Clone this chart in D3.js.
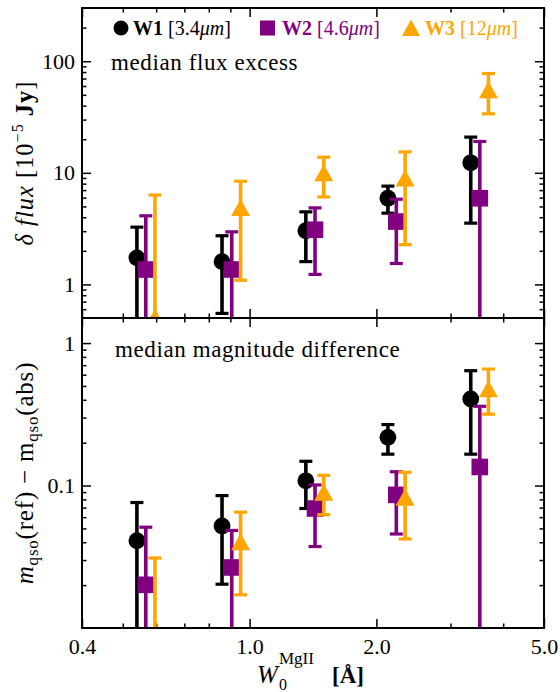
<!DOCTYPE html>
<html>
<head>
<meta charset="utf-8">
<script src="https://cdn.jsdelivr.net/npm/d3@7/dist/d3.min.js"></script>
<style>
  body { margin: 0; background: #fff; }
</style>
</head>
<body>
<svg id="chart" width="560" height="692"></svg>
<script>
// --- data ---
// W0 (rest equivalent width, Angstrom) for each band, slightly offset per band
const w1X = [0.54, 0.86, 1.36, 2.13, 3.35];
const w2X = [0.567, 0.907, 1.43, 2.23, 3.52];
const w3X = [0.596, 0.952, 1.50, 2.34, 3.69];

// top panel: median flux excess [1e-5 Jy]
const w1Flux = [1.73, 1.60, 3.03, 5.92, 12.3];
const w1FluxLo = [0.1, 0.55, 1.6, 4.35, 3.54];
const w1FluxHi = [3.26, 2.73, 4.47, 7.6, 20.9];
const w2Flux = [1.36, 1.36, 3.09, 3.66, 5.92];
const w2FluxLo = [0.1, 0.1, 1.23, 1.54, 0.1];
const w2FluxHi = [4.12, 2.96, 4.85, 5.8, 19.1];
const w3Flux = [0.5, 4.85, 9.9, 8.9, 55];
const w3FluxLo = [0.1, 1.09, 6.08, 2.27, 33.8];
const w3FluxHi = [6.33, 8.4, 13.8, 15.4, 77.6];

// bottom panel: median magnitude difference
const w1Mag = [0.041, 0.052, 0.108, 0.218, 0.405];
const w1MagLo = [0.001, 0.0203, 0.069, 0.166, 0.166];
const w1MagHi = [0.076, 0.085, 0.148, 0.268, 0.64];
const w2Mag = [0.0201, 0.0266, 0.069, 0.086, 0.135];
const w2MagLo = [0.001, 0.001, 0.0373, 0.0457, 0.001];
const w2MagHi = [0.051, 0.0484, 0.101, 0.125, 0.36];
const w3Mag = [0.005, 0.040, 0.089, 0.082, 0.475];
const w3MagLo = [0.001, 0.0171, 0.0624, 0.0422, 0.317];
const w3MagHi = [0.031, 0.065, 0.118, 0.124, 0.657];

const xTicks = [0.4, 1, 2, 5];
const xTickLabels = ['0.4', '1.0', '2.0', '5.0'];
const xMinor = [0.5, 0.6, 0.7, 0.8, 0.9, 3, 4];
const topTicks = [1, 10, 100];
const topTickLabels = ['1', '10', '100'];
const topMinor = [0.6, 0.7, 0.8, 0.9, 2, 3, 4, 5, 6, 7, 8, 9, 20, 30, 40, 50, 60, 70, 80, 90, 200];
const botTicks = [0.1, 1];
const botTickLabels = ['0.1', '1'];
const botMinor = [0.02, 0.03, 0.04, 0.05, 0.06, 0.07, 0.08, 0.09, 0.2, 0.3, 0.4, 0.5, 0.6, 0.7, 0.8, 0.9];

const colors = { w1: 'black', w2: 'purple', w3: 'orange' };
const serif = '"Liberation Serif", "Times New Roman", "DejaVu Serif", serif';

// --- layout ---
const pLeft = 82, pRight = 544, pTop = 8, pMid = 318, pBottom = 628;
const svg = d3.select('#chart').attr('font-family', serif);
svg.append('rect').attr('width', 560).attr('height', 692).attr('fill', '#fff');

const x = d3.scaleLog().domain([0.4, 5]).range([pLeft, pRight]);
const yTop = d3.scaleLog().domain([0.5, 300]).range([pMid, pTop]);
const yBot = d3.scaleLog().domain([0.01, 1.5]).range([pBottom, pMid]);

const defs = svg.append('defs');
defs.append('clipPath').attr('id', 'clipTop').append('rect')
  .attr('x', pLeft).attr('y', pTop).attr('width', pRight - pLeft).attr('height', pMid - pTop);
defs.append('clipPath').attr('id', 'clipBot').append('rect')
  .attr('x', pLeft).attr('y', pMid).attr('width', pRight - pLeft).attr('height', pBottom - pMid);

// ticks (inward, on all four sides)
function ticks(axis, tr, values, size, labels) {
  const g = svg.append('g').attr('transform', tr)
    .call(axis.tickValues(values).tickSize(-size).tickPadding(7)
      .tickFormat((d, i) => labels ? labels[i] : ''));
  g.attr('font-family', serif);
  g.select('.domain').remove();
  g.selectAll('line').attr('stroke', 'black').attr('stroke-width', 1.5);
  g.selectAll('text').attr('font-size', 22).attr('fill', 'black');
  return g;
}

function panelAxes(y, yt, ylab, yminor, y0, y1, xLabels) {
  ticks(d3.axisLeft(y), `translate(${pLeft},0)`, yt, 9, ylab);
  ticks(d3.axisLeft(y), `translate(${pLeft},0)`, yminor, 4.5);
  ticks(d3.axisRight(y), `translate(${pRight},0)`, yt, 9);
  ticks(d3.axisRight(y), `translate(${pRight},0)`, yminor, 4.5);
  ticks(d3.axisTop(x), `translate(0,${y0})`, xTicks, 9);
  ticks(d3.axisTop(x), `translate(0,${y0})`, xMinor, 4.5);
  const gb = ticks(d3.axisBottom(x), `translate(0,${y1})`, xTicks, 9, xLabels);
  ticks(d3.axisBottom(x), `translate(0,${y1})`, xMinor, 4.5);
  if (xLabels) gb.selectAll('text').attr('dy', '0.85em');
}

panelAxes(yTop, topTicks, topTickLabels, topMinor, pTop, pMid, null);
panelAxes(yBot, botTicks, botTickLabels, botMinor, pMid, pBottom, xTickLabels);

// --- error bars + markers ---
function drawSeries(clip, y, xs, vals, lo, hi, color, shape) {
  const pts = xs.map((xv, i) => ({ x: xv, v: vals[i], lo: lo[i], hi: hi[i] }));
  const g = svg.append('g').attr('clip-path', `url(#${clip})`);
  g.selectAll('line.bar').data(pts).enter().append('line')
    .attr('x1', d => x(d.x)).attr('x2', d => x(d.x))
    .attr('y1', d => y(d.lo)).attr('y2', d => y(d.hi))
    .attr('stroke', color).attr('stroke-width', 3.6);
  const caps = pts.flatMap(d => [{ x: d.x, v: d.lo }, { x: d.x, v: d.hi }]);
  g.selectAll('line.cap').data(caps).enter().append('line')
    .attr('x1', d => x(d.x) - 6.5).attr('x2', d => x(d.x) + 6.5)
    .attr('y1', d => y(d.v)).attr('y2', d => y(d.v))
    .attr('stroke', color).attr('stroke-width', 3.2);
  const m = g.selectAll('.mk').data(pts).enter();
  if (shape === 'circle') {
    m.append('circle').attr('cx', d => x(d.x)).attr('cy', d => y(d.v)).attr('r', 8.4).attr('fill', color);
  } else if (shape === 'square') {
    m.append('rect').attr('x', d => x(d.x) - 8.3).attr('y', d => y(d.v) - 8.3)
      .attr('width', 16.6).attr('height', 16.6).attr('fill', color);
  } else {
    m.append('path').attr('d', d => {
      const cx = x(d.x), cy = y(d.v);
      return `M${cx},${cy - 9}L${cx + 9.5},${cy + 8}L${cx - 9.5},${cy + 8}Z`;
    }).attr('fill', color);
  }
}

drawSeries('clipTop', yTop, w1X, w1Flux, w1FluxLo, w1FluxHi, colors.w1, 'circle');
drawSeries('clipTop', yTop, w2X, w2Flux, w2FluxLo, w2FluxHi, colors.w2, 'square');
drawSeries('clipTop', yTop, w3X, w3Flux, w3FluxLo, w3FluxHi, colors.w3, 'triangle');
drawSeries('clipBot', yBot, w1X, w1Mag, w1MagLo, w1MagHi, colors.w1, 'circle');
drawSeries('clipBot', yBot, w2X, w2Mag, w2MagLo, w2MagHi, colors.w2, 'square');
drawSeries('clipBot', yBot, w3X, w3Mag, w3MagLo, w3MagHi, colors.w3, 'triangle');

// frames
[[pTop, pMid], [pMid, pBottom]].forEach(([a, b]) => {
  svg.append('rect').attr('x', pLeft).attr('y', a).attr('width', pRight - pLeft).attr('height', b - a)
    .attr('fill', 'none').attr('stroke', 'black').attr('stroke-width', 2);
});

// --- legend ---
const leg = svg.append('g');
leg.append('circle').attr('cx', 121).attr('cy', 28).attr('r', 7.5).attr('fill', colors.w1);
leg.append('rect').attr('x', 260).attr('y', 20.5).attr('width', 15).attr('height', 15).attr('fill', colors.w2);
leg.append('path').attr('d', 'M411,19.5L420,36L402,36Z').attr('fill', colors.w3);
function legText(xp, color, name, band) {
  const t = leg.append('text').attr('x', xp).attr('y', 35).attr('font-size', 20).attr('fill', color);
  t.append('tspan').attr('font-weight', 'bold').text(name);
  t.append('tspan').text(' [' + band);
  t.append('tspan').attr('font-style', 'italic').text('μm');
  t.append('tspan').text(']');
}
legText(133, colors.w1, 'W1', '3.4');
legText(282, colors.w2, 'W2', '4.6');
legText(425, colors.w3, 'W3', '12');

// panel notes
svg.append('text').attr('x', 111).attr('y', 70).attr('font-size', 23)
  .attr('letter-spacing', 0.6).text('median flux excess');
svg.append('text').attr('x', 115).attr('y', 357).attr('font-size', 23)
  .attr('letter-spacing', 0.6).text('median magnitude difference');

// --- axis labels ---
const yl1 = svg.append('text').attr('transform', `translate(33,${(pTop + pMid) / 2}) rotate(-90)`)
  .attr('text-anchor', 'middle').attr('font-size', 24.5).attr('letter-spacing', 1);
yl1.append('tspan').attr('font-style', 'italic').text('δ flux');
yl1.append('tspan').text(' [10');
yl1.append('tspan').attr('font-size', 16).attr('dy', -10).text('−5');
yl1.append('tspan').attr('dy', 10).text(' ');
yl1.append('tspan').attr('font-weight', 'bold').text('Jy');
yl1.append('tspan').text(']');

const yl2 = svg.append('text').attr('transform', `translate(33,${(pMid + pBottom) / 2}) rotate(-90)`)
  .attr('text-anchor', 'middle').attr('font-size', 25).attr('letter-spacing', 0.8);
yl2.append('tspan').attr('font-style', 'italic').text('m');
yl2.append('tspan').attr('font-size', 17).attr('dy', 5).text('qso');
yl2.append('tspan').attr('dy', -5).text('(ref) − m');
yl2.append('tspan').attr('font-size', 17).attr('dy', 5).text('qso');
yl2.append('tspan').attr('dy', -5).text('(abs)');

const xl = svg.append('g');
xl.append('text').attr('x', 257).attr('y', 683).attr('font-size', 25).attr('font-style', 'italic').text('W');
xl.append('text').attr('x', 279).attr('y', 690).attr('font-size', 16).text('0');
xl.append('text').attr('x', 279).attr('y', 664).attr('font-size', 17).text('MgII');
xl.append('text').attr('x', 332).attr('y', 683).attr('font-size', 23).attr('font-weight', 'bold').text('[Å]');
</script>
</body>
</html>
